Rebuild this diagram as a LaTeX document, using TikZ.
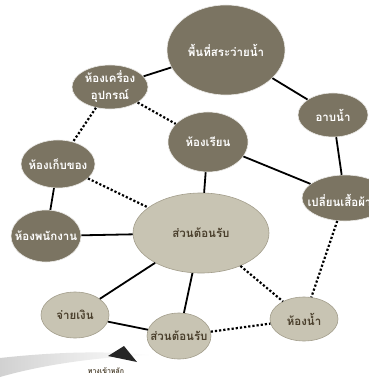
\documentclass[tikz,border=0pt]{standalone}
\usepackage{fontspec}
\newfontfamily\thaifont[Script=Thai]{Loma}
\usetikzlibrary{shapes.geometric}
\definecolor{darkfill}{HTML}{7B7462}
\definecolor{lightfill}{HTML}{C8C4B3}
\definecolor{lightedge}{HTML}{A39E8C}
\definecolor{labelbrown}{HTML}{4A3F2C}
\tikzset{
  room/.style={ellipse, inner sep=0pt},
  darkroom/.style={room, fill=darkfill, draw=white!85!darkfill, line width=0.6pt},
  lightroom/.style={room, fill=lightfill, draw=lightedge, line width=0.6pt},
  darktxt/.style={text=white, font=\thaifont\bfseries\fontsize{11.5}{17}\selectfont, align=center},
  lighttxt/.style={text=labelbrown, font=\thaifont\bfseries\fontsize{11.5}{17}\selectfont, align=center},
  link/.style={line width=1.8pt, black},
  dotlink/.style={line width=2.2pt, black, dash pattern=on 2.2pt off 2pt},
}
\begin{document}
\begin{tikzpicture}[x=1pt,y=-1pt]
\useasboundingbox (0,0) rectangle (368,379);
\fill[white] (0,0) rectangle (368,379);

% entrance sweep and marker
\shade[left color=black!18, right color=white]
  (0,358) .. controls (45,353) and (100,350) .. (150,355)
  .. controls (100,357) and (45,364) .. (0,377) -- cycle;
\fill[black!85] (108,356) -- (124,346) -- (137,362) -- cycle;
\node[text=labelbrown, font=\thaifont\bfseries\fontsize{7}{8}\selectfont] (entry) at (106,371) {ทางเข้าหลัก};

% rooms
\node[darkroom, minimum width=118pt, minimum height=90pt] (pool) at (226,50) {};
\node[darktxt] at (pool.center) {พื้นที่สระว่ายน้ำ};
\node[darkroom, minimum width=76pt, minimum height=44pt] (equip) at (110,87) {};
\node[darktxt] at (equip.center) {ห้องเครื่อง\\อุปกรณ์};
\node[darkroom, minimum width=70pt, minimum height=44pt] (shower) at (333,115) {};
\node[darktxt] at (shower.center) {อาบน้ำ};
\node[darkroom, minimum width=80pt, minimum height=60pt] (class) at (208,142) {};
\node[darktxt] at (class.center) {ห้องเรียน};
\node[darkroom, minimum width=74pt, minimum height=48pt] (store) at (58,164) {};
\node[darktxt] at (store.center) {ห้องเก็บของ};
\node[darkroom, minimum width=70pt, minimum height=52pt] (staff) at (46,236) {};
\node[darktxt] at (staff.center) {ห้องพนักงาน};
\node[darkroom, minimum width=86pt, minimum height=46pt] (change) at (345,198) {};
\node[darktxt, anchor=west] at (304,200) {เปลี่ยนเสื้อผ้า};
\node[lightroom, minimum width=136pt, minimum height=80pt] (lobby) at (201,233) {};
\node[lighttxt] at (lobby.center) {ส่วนต้อนรับ};
\node[lightroom, minimum width=68pt, minimum height=44pt] (wc) at (304,319) {};
\node[lighttxt] at (wc.center) {ห้องน้ำ};
\node[lightroom, minimum width=68pt, minimum height=46pt] (pay) at (75,315) {};
\node[lighttxt] at (pay.center) {จ่ายเงิน};
\node[lightroom, minimum width=64pt, minimum height=46pt] (front) at (179,336) {};
\node[lighttxt] at (front.center) {ส่วนต้อนรับ};

% connections
\draw[link] (pool) -- (equip);
\draw[link] (pool) -- (shower);
\draw[dotlink] (equip) -- (class);
\draw[dotlink] (equip) -- (store);
\draw[link] (shower) -- (change);
\draw[link] (class) -- (change);
\draw[link] (class) -- (lobby);
\draw[dotlink] (store) -- (lobby);
\draw[link] (store) -- (staff);
\draw[link] (staff) -- (lobby);
\draw[link] (lobby) -- (pay);
\draw[link] (lobby) -- (front);
\draw[dotlink] (lobby) -- (wc);
\draw[dotlink] (change) -- (wc);
\draw[link] (pay) -- (front);
\draw[dotlink] (front) -- (wc);
\end{tikzpicture}
\end{document}
